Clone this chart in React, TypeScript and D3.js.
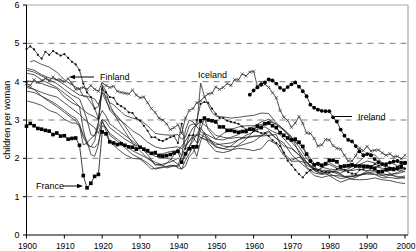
import React from "react";
import * as d3 from "d3";

type Pt = [number, number];

const yTicks = [0, 1, 2, 3, 4, 5, 6];
const xTicks = [1900, 1910, 1920, 1930, 1940, 1950, 1960, 1970, 1980, 1990, 2000];
const gridValues = [1, 2, 3, 4, 5];

const finland: Pt[] = [
  [1900,4.85],[1901,4.92],[1902,4.84],[1903,4.70],[1904,4.60],[1905,4.78],[1906,4.70],[1907,4.80],[1908,4.74],[1909,4.68],
  [1910,4.72],[1911,4.62],[1912,4.52],[1913,4.45],[1914,4.30],[1915,3.95],[1916,3.72],[1917,3.60],[1918,3.30],[1919,3.05],
  [1920,3.80],[1921,3.72],[1922,3.60],[1923,3.58],[1924,3.42],[1925,3.36],[1926,3.30],[1927,3.20],[1928,3.18],[1929,3.05],
  [1930,2.98],[1931,2.85],[1932,2.72],[1933,2.55],[1934,2.55],[1935,2.48],[1936,2.45],[1937,2.50],[1938,2.55],[1939,2.58],
  [1940,2.40],[1941,2.90],[1942,2.25],[1943,2.60],[1944,2.60],[1945,3.00],[1946,3.42],[1947,3.47],[1948,3.45],[1949,3.30],
  [1950,3.16],[1951,3.05],[1952,3.05],[1953,2.98],[1954,2.95],[1955,2.93],[1956,2.90],[1957,2.83],[1958,2.75],[1959,2.74],
  [1960,2.72],[1961,2.70],[1962,2.66],[1963,2.66],[1964,2.58],[1965,2.47],[1966,2.40],[1967,2.32],[1968,2.15],[1969,1.94],
  [1970,1.83],[1971,1.70],[1972,1.59],[1973,1.50],[1974,1.62],[1975,1.69],[1976,1.72],[1977,1.69],[1978,1.65],[1979,1.64],
  [1980,1.63],[1981,1.65],[1982,1.72],[1983,1.74],[1984,1.70],[1985,1.64],[1986,1.60],[1987,1.59],[1988,1.70],[1989,1.71],
  [1990,1.78],[1991,1.79],[1992,1.85],[1993,1.81],[1994,1.85],[1995,1.81],[1996,1.76],[1997,1.75],[1998,1.70],[1999,1.74],[2000,1.73],
];

const france: Pt[] = [
  [1900,2.84],[1901,2.91],[1902,2.85],[1903,2.78],[1904,2.76],[1905,2.73],[1906,2.71],[1907,2.62],[1908,2.66],[1909,2.58],
  [1910,2.59],[1911,2.50],[1912,2.52],[1913,2.53],[1914,2.34],[1915,1.55],[1916,1.23],[1917,1.35],[1918,1.53],[1919,1.58],
  [1920,2.69],[1921,2.64],[1922,2.43],[1923,2.40],[1924,2.36],[1925,2.38],[1926,2.34],[1927,2.30],[1928,2.29],[1929,2.24],
  [1930,2.29],[1931,2.24],[1932,2.20],[1933,2.13],[1934,2.15],[1935,2.07],[1936,2.06],[1937,2.07],[1938,2.10],[1939,2.14],
  [1940,2.18],[1941,1.90],[1942,2.12],[1943,2.25],[1944,2.30],[1945,2.30],[1946,2.98],[1947,3.05],[1948,3.00],[1949,2.98],
  [1950,2.95],[1951,2.82],[1952,2.82],[1953,2.73],[1954,2.73],[1955,2.70],[1956,2.68],[1957,2.70],[1958,2.70],[1959,2.76],
  [1960,2.75],[1961,2.84],[1962,2.80],[1963,2.90],[1964,2.92],[1965,2.85],[1966,2.80],[1967,2.67],[1968,2.60],[1969,2.53],
  [1970,2.48],[1971,2.50],[1972,2.42],[1973,2.31],[1974,2.11],[1975,1.93],[1976,1.83],[1977,1.86],[1978,1.82],[1979,1.86],
  [1980,1.95],[1981,1.95],[1982,1.91],[1983,1.78],[1984,1.80],[1985,1.81],[1986,1.83],[1987,1.80],[1988,1.80],[1989,1.79],
  [1990,1.78],[1991,1.77],[1992,1.73],[1993,1.65],[1994,1.66],[1995,1.70],[1996,1.72],[1997,1.71],[1998,1.75],[1999,1.79],[2000,1.88],
];

const ireland: Pt[] = [
  [1959,3.66],[1960,3.77],[1961,3.85],[1962,3.92],[1963,3.98],[1964,4.06],[1965,4.03],[1966,3.95],[1967,3.84],[1968,3.78],
  [1969,3.86],[1970,3.93],[1971,3.98],[1972,3.87],[1973,3.75],[1974,3.62],[1975,3.40],[1976,3.32],[1977,3.27],[1978,3.24],
  [1979,3.23],[1980,3.23],[1981,3.07],[1982,2.96],[1983,2.75],[1984,2.59],[1985,2.48],[1986,2.44],[1987,2.32],[1988,2.18],
  [1989,2.08],[1990,2.11],[1991,2.08],[1992,1.98],[1993,1.90],[1994,1.85],[1995,1.84],[1996,1.89],[1997,1.92],[1998,1.93],[1999,1.89],[2000,1.89],
];

const iceland: Pt[] = [
  [1900,3.95],[1901,3.90],[1902,4.05],[1903,3.98],[1904,4.02],[1905,4.08],[1906,4.02],[1907,4.12],[1908,4.05],[1909,4.05],
  [1910,4.00],[1911,4.08],[1912,3.95],[1913,3.80],[1914,3.82],[1915,3.85],[1916,3.80],[1917,3.90],[1918,3.80],[1919,3.75],
  [1920,3.97],[1921,3.90],[1922,3.85],[1923,3.88],[1924,3.75],[1925,3.72],[1926,3.70],[1927,3.68],[1928,3.78],[1929,3.65],
  [1930,3.58],[1931,3.60],[1932,3.45],[1933,3.30],[1934,3.20],[1935,3.05],[1936,3.00],[1937,2.90],[1938,2.75],[1939,2.80],
  [1940,2.88],[1941,2.65],[1942,3.05],[1943,3.25],[1944,3.30],[1945,3.45],[1946,3.50],[1947,3.60],[1948,3.68],[1949,3.70],
  [1950,3.86],[1951,3.80],[1952,3.85],[1953,3.95],[1954,3.90],[1955,4.05],[1956,4.05],[1957,4.20],[1958,4.15],[1959,4.25],
  [1960,4.27],[1961,3.88],[1962,3.98],[1963,3.93],[1964,3.85],[1965,3.71],[1966,3.58],[1967,3.25],[1968,3.07],[1969,2.99],
  [1970,2.81],[1971,2.92],[1972,3.09],[1973,2.91],[1974,2.66],[1975,2.65],[1976,2.52],[1977,2.32],[1978,2.35],[1979,2.49],
  [1980,2.48],[1981,2.33],[1982,2.26],[1983,2.24],[1984,2.08],[1985,1.93],[1986,1.93],[1987,2.07],[1988,2.27],[1989,2.20],
  [1990,2.31],[1991,2.19],[1992,2.21],[1993,2.22],[1994,2.14],[1995,2.08],[1996,2.12],[1997,2.04],[1998,2.05],[1999,1.99],[2000,2.08],
];

const netherlands: Pt[] = [
  [1901,4.52],[1902,4.55],[1904,4.45],[1906,4.38],[1908,4.25],[1910,4.05],[1912,3.92],[1914,3.80],[1915,3.62],[1916,3.60],
  [1917,3.45],[1918,3.30],[1919,3.35],[1920,3.72],[1921,3.62],[1922,3.45],[1923,3.40],[1924,3.30],[1925,3.22],[1926,3.12],
  [1928,3.05],[1930,3.00],[1932,2.85],[1934,2.65],[1936,2.62],[1938,2.60],[1940,2.62],[1941,2.50],[1942,2.55],[1943,2.85],
  [1944,2.90],[1945,2.85],[1946,3.96],[1947,3.62],[1948,3.40],[1949,3.20],[1950,3.10],[1952,3.08],[1954,3.05],[1956,3.07],
  [1958,3.10],[1960,3.12],[1962,3.18],[1964,3.17],[1966,2.92],[1968,2.75],[1970,2.57],[1972,2.15],[1974,1.77],[1976,1.62],
  [1978,1.58],[1980,1.60],[1983,1.47],[1985,1.51],[1988,1.55],[1990,1.62],[1993,1.57],[1995,1.53],[1998,1.63],[2000,1.72],
];

const norway: Pt[] = [
  [1900,4.35],[1902,4.30],[1904,4.18],[1906,4.10],[1908,4.05],[1910,3.92],[1912,3.78],[1914,3.65],[1916,3.62],[1918,3.55],
  [1919,3.40],[1920,3.70],[1921,3.50],[1922,3.30],[1924,3.10],[1926,2.85],[1928,2.55],[1930,2.30],[1932,2.10],[1934,1.82],
  [1936,1.85],[1938,1.90],[1940,2.00],[1941,1.95],[1942,2.15],[1944,2.45],[1946,2.80],[1947,2.65],[1948,2.60],[1950,2.50],
  [1952,2.65],[1954,2.75],[1956,2.82],[1958,2.85],[1960,2.85],[1962,2.88],[1964,2.96],[1966,2.90],[1968,2.75],[1970,2.50],
  [1972,2.38],[1974,2.13],[1976,1.87],[1978,1.77],[1980,1.72],[1982,1.70],[1984,1.66],[1986,1.71],[1988,1.84],[1990,1.93],
  [1992,1.88],[1994,1.87],[1996,1.89],[1998,1.81],[2000,1.85],
];

const sweden: Pt[] = [
  [1900,3.85],[1902,3.80],[1904,3.72],[1906,3.65],[1908,3.60],[1910,3.45],[1912,3.30],[1914,3.15],[1916,2.95],[1918,2.80],
  [1919,2.65],[1920,2.95],[1921,2.80],[1922,2.60],[1924,2.45],[1926,2.28],[1928,2.10],[1930,2.00],[1932,1.88],[1934,1.72],
  [1936,1.76],[1938,1.82],[1940,1.78],[1942,2.05],[1944,2.55],[1945,2.60],[1946,2.55],[1948,2.45],[1950,2.30],[1952,2.25],
  [1954,2.22],[1956,2.26],[1958,2.24],[1960,2.20],[1962,2.25],[1964,2.48],[1966,2.37],[1968,2.07],[1970,1.92],[1972,1.93],
  [1974,1.88],[1976,1.68],[1978,1.60],[1980,1.68],[1983,1.61],[1985,1.73],[1987,1.84],[1989,2.02],[1990,2.13],[1992,2.09],
  [1994,1.88],[1996,1.60],[1998,1.50],[2000,1.54],
];

const denmark: Pt[] = [
  [1900,4.02],[1902,4.00],[1904,3.95],[1906,3.88],[1908,3.82],[1910,3.60],[1912,3.45],[1914,3.35],[1916,3.18],[1918,3.08],
  [1919,3.00],[1920,3.25],[1921,3.10],[1922,2.90],[1924,2.75],[1926,2.60],[1928,2.45],[1930,2.30],[1932,2.15],[1934,2.10],
  [1936,2.12],[1938,2.18],[1940,2.20],[1942,2.45],[1944,2.80],[1946,2.95],[1948,2.80],[1950,2.60],[1952,2.55],[1954,2.52],
  [1956,2.55],[1958,2.53],[1960,2.57],[1962,2.58],[1964,2.60],[1966,2.62],[1968,2.12],[1970,1.95],[1972,2.03],[1974,1.90],
  [1976,1.75],[1978,1.67],[1980,1.55],[1982,1.43],[1983,1.38],[1985,1.45],[1987,1.50],[1990,1.67],[1992,1.76],[1994,1.81],
  [1996,1.75],[1998,1.72],[2000,1.77],
];

const englandWales: Pt[] = [
  [1900,3.50],[1902,3.45],[1904,3.38],[1906,3.25],[1908,3.18],[1910,3.02],[1912,2.92],[1913,2.92],[1914,2.85],[1915,2.62],
  [1916,2.45],[1917,2.10],[1918,2.05],[1919,2.35],[1920,3.00],[1921,2.72],[1922,2.45],[1924,2.25],[1926,2.10],[1928,2.00],
  [1930,1.98],[1932,1.82],[1933,1.72],[1935,1.76],[1937,1.78],[1939,1.82],[1940,1.75],[1941,1.72],[1942,1.95],[1944,2.30],
  [1945,2.05],[1946,2.45],[1947,2.68],[1948,2.40],[1950,2.18],[1952,2.15],[1954,2.20],[1956,2.35],[1958,2.50],[1960,2.70],
  [1962,2.85],[1964,2.93],[1966,2.78],[1968,2.60],[1970,2.43],[1972,2.20],[1974,1.90],[1976,1.72],[1977,1.66],[1979,1.84],
  [1980,1.89],[1982,1.78],[1984,1.77],[1986,1.78],[1988,1.82],[1990,1.83],[1992,1.79],[1994,1.74],[1996,1.73],[1998,1.71],[2000,1.65],
];

const scotland: Pt[] = [
  [1900,4.30],[1902,4.25],[1904,4.15],[1906,4.05],[1908,3.95],[1910,3.80],[1912,3.65],[1914,3.55],[1915,3.30],[1916,3.00],
  [1917,2.62],[1918,2.58],[1919,2.95],[1920,3.88],[1921,3.55],[1922,3.25],[1924,3.05],[1926,2.90],[1928,2.72],[1930,2.60],
  [1932,2.42],[1934,2.30],[1936,2.25],[1938,2.28],[1940,2.30],[1941,2.25],[1942,2.35],[1944,2.55],[1945,2.40],[1946,2.75],
  [1947,3.05],[1948,2.75],[1950,2.50],[1952,2.48],[1954,2.55],[1956,2.62],[1958,2.75],[1960,2.82],[1962,2.95],[1964,3.02],
  [1966,2.88],[1968,2.72],[1970,2.55],[1972,2.30],[1974,2.00],[1976,1.80],[1977,1.70],[1979,1.82],[1980,1.84],[1982,1.74],
  [1984,1.70],[1986,1.68],[1988,1.72],[1990,1.67],[1992,1.68],[1994,1.60],[1996,1.56],[1998,1.53],[2000,1.48],
];

const switzerland: Pt[] = [
  [1900,3.75],[1902,3.72],[1904,3.62],[1906,3.52],[1908,3.40],[1910,3.25],[1912,3.10],[1913,3.05],[1914,2.90],[1915,2.55],
  [1916,2.38],[1917,2.30],[1918,2.28],[1919,2.40],[1920,2.85],[1921,2.80],[1922,2.65],[1924,2.50],[1926,2.35],[1928,2.20],
  [1930,2.10],[1932,2.00],[1934,1.90],[1936,1.82],[1937,1.75],[1939,1.80],[1940,1.82],[1942,2.30],[1944,2.60],[1946,2.62],
  [1948,2.50],[1950,2.40],[1952,2.32],[1954,2.30],[1956,2.32],[1958,2.38],[1960,2.44],[1962,2.58],[1964,2.68],[1966,2.52],
  [1968,2.40],[1970,2.10],[1972,1.92],[1974,1.75],[1976,1.55],[1978,1.50],[1980,1.55],[1982,1.55],[1984,1.52],[1986,1.53],
  [1988,1.57],[1990,1.59],[1992,1.58],[1994,1.49],[1996,1.50],[1998,1.47],[2000,1.50],
];

const austria: Pt[] = [
  [1900,4.22],[1902,4.18],[1904,4.05],[1906,3.95],[1908,3.85],[1910,3.70],[1912,3.55],[1913,3.45],[1914,3.35],[1915,2.75],
  [1916,2.35],[1917,2.30],[1918,2.45],[1919,2.90],[1920,3.92],[1921,3.75],[1922,3.40],[1924,3.00],[1926,2.70],[1928,2.40],
  [1930,2.20],[1932,2.00],[1934,1.85],[1936,1.80],[1938,1.95],[1940,2.25],[1941,2.05],[1942,2.75],[1943,3.00],[1944,2.95],
  [1946,2.70],[1948,2.55],[1950,2.30],[1952,2.25],[1954,2.32],[1956,2.48],[1958,2.60],[1960,2.69],[1962,2.80],[1963,2.82],
  [1965,2.70],[1967,2.62],[1970,2.29],[1972,2.08],[1974,1.91],[1976,1.69],[1978,1.60],[1980,1.65],[1982,1.66],[1984,1.52],
  [1986,1.45],[1988,1.44],[1990,1.45],[1992,1.49],[1994,1.44],[1996,1.42],[1998,1.37],[2000,1.34],
];

const belgium: Pt[] = [
  [1900,3.90],[1902,3.80],[1904,3.62],[1906,3.48],[1908,3.35],[1910,3.20],[1912,3.05],[1913,2.98],[1914,2.85],[1915,2.35],
  [1916,2.40],[1917,2.52],[1918,2.60],[1919,2.80],[1920,3.02],[1921,2.95],[1922,2.80],[1924,2.65],[1926,2.50],[1928,2.38],
  [1930,2.30],[1932,2.18],[1934,2.05],[1936,2.02],[1938,1.98],[1940,1.85],[1941,1.72],[1942,1.80],[1943,2.05],[1944,2.15],
  [1946,2.55],[1947,2.50],[1948,2.48],[1950,2.35],[1952,2.38],[1954,2.40],[1956,2.48],[1958,2.55],[1960,2.58],[1962,2.60],
  [1964,2.72],[1966,2.52],[1968,2.32],[1970,2.25],[1972,2.09],[1974,1.82],[1976,1.73],[1978,1.69],[1980,1.68],[1982,1.60],
  [1984,1.53],[1986,1.54],[1988,1.57],[1990,1.62],[1992,1.65],[1994,1.56],[1996,1.59],[1998,1.60],[2000,1.66],
];

const plainSeries: Pt[][] = [netherlands, norway, sweden, denmark, englandWales, scotland, switzerland, austria, belgium];

const W = 416;
const H = 251;

export default function App() {
  const x = d3.scaleLinear().domain([1900, 2000]).range([26.5, 405]);
  const y = d3.scaleLinear().domain([0, 6]).range([235, 5]);
  const line = d3
    .line<Pt>()
    .x((d) => x(d[0]))
    .y((d) => y(d[1]));

  const font = "'Liberation Sans', Arial, sans-serif";
  const lineColor = "#2a2a2a";

  return (
    <svg
      width={W}
      height={H}
      style={{ position: "fixed", left: 0, top: 0, background: "#fff" }}
      fontFamily={font}
    >
      <rect x={0} y={0} width={W} height={H} fill="#fff" />
      {gridValues.map((v) => (
        <line
          key={"g" + v}
          x1={26.5}
          x2={408}
          y1={y(v)}
          y2={y(v)}
          stroke="#707070"
          strokeWidth={0.9}
          strokeDasharray="6,5"
        />
      ))}
      <line x1={26.5} x2={408} y1={5} y2={5} stroke="#a8a8a8" strokeWidth={1.2} />
      <line x1={408} x2={408} y1={5} y2={235} stroke="#a8a8a8" strokeWidth={1.2} />

      {plainSeries.map((s, i) => (
        <path key={"p" + i} d={line(s) || ""} fill="none" stroke={lineColor} strokeWidth={0.8} />
      ))}

      <path d={line(finland) || ""} fill="none" stroke={lineColor} strokeWidth={0.8} />
      {finland.map((d, i) => (
        <circle key={"fi" + i} cx={x(d[0])} cy={y(d[1])} r={1.1} fill="#111" />
      ))}

      <path d={line(iceland) || ""} fill="none" stroke={lineColor} strokeWidth={0.8} />
      {iceland.map((d, i) => {
        const cx = x(d[0]);
        const cy = y(d[1]);
        const s = 1.6;
        return (
          <path
            key={"is" + i}
            d={`M${cx - s},${cy - s}L${cx + s},${cy + s}M${cx - s},${cy + s}L${cx + s},${cy - s}`}
            stroke="#333"
            strokeWidth={0.7}
          />
        );
      })}

      <path d={line(france) || ""} fill="none" stroke={lineColor} strokeWidth={0.9} />
      {france.map((d, i) => (
        <rect key={"fr" + i} x={x(d[0]) - 1.8} y={y(d[1]) - 1.8} width={3.6} height={3.6} fill="#000" />
      ))}

      <path d={line(ireland) || ""} fill="none" stroke={lineColor} strokeWidth={0.9} />
      {ireland.map((d, i) => (
        <circle key={"ie" + i} cx={x(d[0])} cy={y(d[1])} r={1.9} fill="#000" />
      ))}

      <line x1={26.5} x2={26.5} y1={5} y2={235} stroke="#000" strokeWidth={1} />
      <line x1={26.5} x2={408} y1={235} y2={235} stroke="#000" strokeWidth={1} />
      {yTicks.map((v) => (
        <g key={"yt" + v}>
          <line x1={23} x2={26.5} y1={y(v)} y2={y(v)} stroke="#000" strokeWidth={1} />
          <text x={19.5} y={y(v)} dy="0.35em" textAnchor="end" fontSize={9} fill="#000">
            {v}
          </text>
        </g>
      ))}
      {xTicks.map((v) => (
        <g key={"xt" + v}>
          <line x1={x(v)} x2={x(v)} y1={235} y2={238.5} stroke="#000" strokeWidth={1} />
          <text x={x(v) + 1} y={249} textAnchor="middle" fontSize={8.5} fill="#000">
            {v}
          </text>
        </g>
      ))}
      <text
        transform="translate(10,120) rotate(-90)"
        textAnchor="middle"
        fontSize={9}
        fill="#000"
      >
        children per woman
      </text>

      <text x={100} y={80} fontSize={9} fill="#000">Finland</text>
      <line x1={94} x2={74} y1={77} y2={77} stroke="#000" strokeWidth={1} />
      <path d="M69,77 L75,74.8 L75,79.2 Z" fill="#000" />

      <text x={198} y={78} fontSize={9} fill="#000">Iceland</text>

      <text x={358} y={119.5} fontSize={9} fill="#000">Ireland</text>
      <line x1={335} x2={352} y1={116.5} y2={116.5} stroke="#000" strokeWidth={1} />

      <text x={36} y={189} fontSize={9} fill="#000">France</text>
      <line x1={63} x2={78} y1={186} y2={186} stroke="#000" strokeWidth={1} />
      <path d="M83,186 L77,183.8 L77,188.2 Z" fill="#000" />
    </svg>
  );
}
